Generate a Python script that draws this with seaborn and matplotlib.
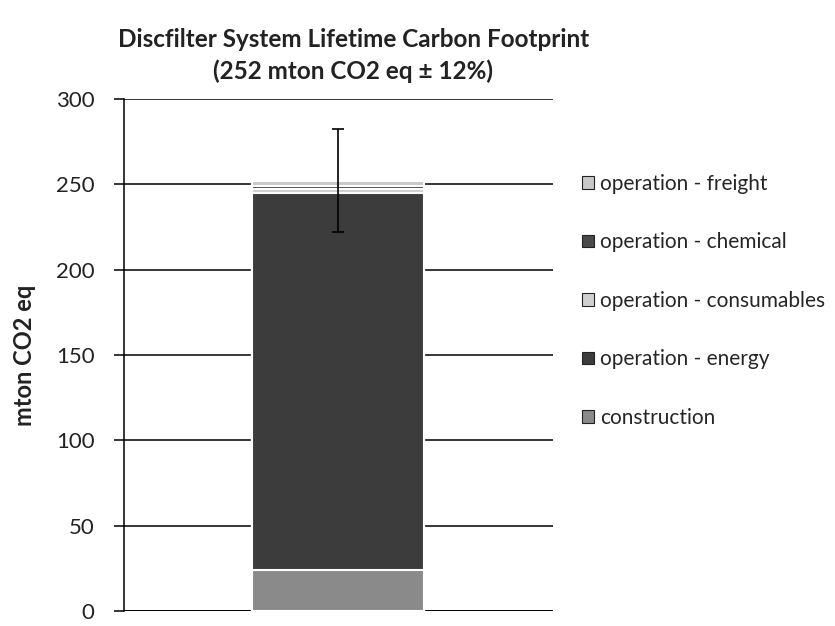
import numpy as np
import pandas as pd
import seaborn as sns
import matplotlib
matplotlib.use("Agg")
import matplotlib.pyplot as plt
from matplotlib.patches import Patch

# segment values (mton CO2 eq), bottom to top
components = ['construction', 'operation - energy', 'operation - consumables',
              'operation - chemical', 'operation - freight']
values = [24, 221, 2, 2, 3]
total = 252
uncertainty = 0.12
seg_colors = ['#8a8a8a', '#3c3c3c', '#cfcfcf', '#4a4a4a', '#c8c8c8']
yticks = [0, 50, 100, 150, 200, 250, 300]

sns.set_theme(style="white")
plt.rcParams['font.family'] = ['Lato', 'DejaVu Sans']

fig, ax = plt.subplots(figsize=(8.35, 6.26), dpi=100)
fig.subplots_adjust(left=0.148, right=0.662, top=0.842, bottom=0.024)

# stacked bar: draw cumulative totals from tallest to shortest
cum = np.cumsum(values)
for i in reversed(range(len(components))):
    df = pd.DataFrame({'cat': ['total'], 'val': [cum[i]]})
    sns.barplot(data=df, x='cat', y='val', color=seg_colors[i], width=0.4,
                edgecolor='white', linewidth=1.5, saturation=1, ax=ax)

# error bar (lower half disappears into the dark segment)
err = total * uncertainty
ax.errorbar(0, total, yerr=[[err], [err]], color='black',
            lw=1.2, capsize=4, capthick=1.2, zorder=5)

ax.set_xlim(-0.5, 0.5)
ax.set_ylim(0, 300)
ax.set_yticks(yticks)
ax.set_yticklabels([str(t) for t in yticks], fontsize=16, color='#222222')
ax.set_xticks([])
ax.set_xlabel('')
ax.set_ylabel('mton CO2 eq', fontsize=17, fontweight='bold', labelpad=14,
              color='#222222')
ax.yaxis.grid(True, color='black', lw=1.1)
ax.set_axisbelow(True)
ax.tick_params(axis='y', length=7, width=1.1, color='black', left=True, pad=14)
for side in ['top', 'right']:
    ax.spines[side].set_visible(False)
ax.spines['bottom'].set_visible(False)
ax.spines['left'].set_color('black')
ax.spines['left'].set_linewidth(1.1)
ax.axhline(0, color='black', lw=1.4, zorder=0)

ax.set_title('Discfilter System Lifetime Carbon Footprint\n'
             '(252 mton CO2 eq \u00b1 12%)', fontsize=17.5, fontweight='bold',
             color='#222222', pad=14, linespacing=1.45, x=0.535)

handles = [Patch(facecolor=seg_colors[i], edgecolor='#222222', lw=0.8,
                 label=components[i]) for i in reversed(range(len(components)))]
ax.legend(handles=handles, loc='upper left', bbox_to_anchor=(1.049, 0.87),
          frameon=False, fontsize=15, handlelength=0.55, handleheight=0.55,
          handletextpad=0.3, labelspacing=1.85, borderaxespad=0)

fig.savefig('out.png', dpi=100)
